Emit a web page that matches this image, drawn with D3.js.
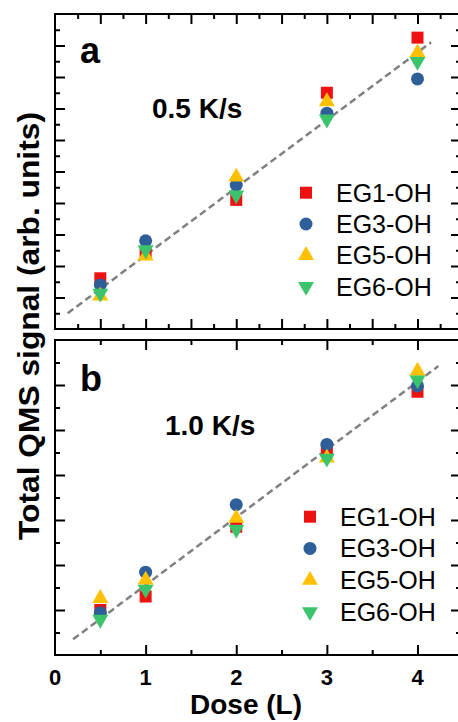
<!DOCTYPE html>
<html>
<head>
<meta charset="utf-8">
<script src="https://cdn.jsdelivr.net/npm/d3@7"></script>
<style>
  body { margin: 0; background: #fff; }
  svg { display: block; font-family: "Liberation Sans", Arial, sans-serif; }
</style>
</head>
<body>
<svg></svg>
<script>
'use strict';

// doses (L) where each sample was taken
var doses = [0.5, 1, 2, 3, 4];
var seriesNames = ['EG1-OH', 'EG3-OH', 'EG5-OH', 'EG6-OH'];
var xTickLabels = [0, 1, 2, 3, 4];

// panel a, 0.5 K/s
var a_EG1 = [1.61, 2.40, 4.10, 7.50, 9.25];
var a_EG3 = [1.40, 2.80, 4.57, 6.85, 7.94];
var a_EG5 = [1.05, 2.32, 4.83, 7.22, 8.77];
var a_EG6 = [1.13, 2.51, 4.25, 6.66, 8.49];
var a_fitX = [0.14, 4.15];
var a_fitY = [0.50, 9.10];

// panel b, 1.0 K/s
var b_EG1 = [1.00, 1.30, 2.85, 4.52, 5.85];
var b_EG3 = [0.94, 1.84, 3.34, 4.68, 5.98];
var b_EG5 = [1.26, 1.67, 3.04, 4.38, 6.31];
var b_EG6 = [0.79, 1.46, 2.79, 4.37, 6.11];
var b_fitX = [0.20, 4.23];
var b_fitY = [0.35, 6.42];

var canvasWidth = 458;
var canvasHeight = 722;
var left = 55, right = 461;

var colors = ['#ee1111', '#2e5f99', '#ffc000', '#3cc46c'];
var shapes = ['square', 'circle', 'up', 'down'];

var svg = d3.select('svg')
  .attr('width', canvasWidth)
  .attr('height', canvasHeight);

var x = d3.scaleLinear().domain([0, 4.48]).range([left, right]);

function symbolPath(shape) {
  if (shape == 'square') return d3.symbol(d3.symbolSquare, 144)();
  if (shape == 'circle') return d3.symbol(d3.symbolCircle, 133)();
  return d3.symbol(d3.symbolTriangle, 110)();
}

function range(a, b, step) {
  return d3.range(a, b + 1e-9, step);
}

function drawPanel(opt) {
  var y = d3.scaleLinear().domain(opt.yDomain).range([opt.bottom, opt.top]);
  var g = svg.append('g');

  // ticks, all pointing inward
  function axis(make, scale, vals, len, pos) {
    var ax = make(scale).tickValues(vals).tickSizeInner(-len).tickSizeOuter(0).tickFormat('');
    g.append('g')
      .attr('transform', pos)
      .call(ax)
      .call(function(s) {
        s.select('.domain').remove();
        s.selectAll('line').attr('stroke', '#000').attr('stroke-width', 2);
      });
  }
  axis(d3.axisLeft, y, opt.yMajor, 10, 'translate(' + left + ',0)');
  axis(d3.axisLeft, y, opt.yMinor, 5, 'translate(' + left + ',0)');
  axis(d3.axisRight, y, opt.yMajor, 10, 'translate(' + right + ',0)');
  axis(d3.axisRight, y, opt.yMinor, 5, 'translate(' + right + ',0)');
  axis(d3.axisTop, x, opt.xTopMajor, 10, 'translate(0,' + opt.top + ')');
  axis(d3.axisTop, x, opt.xTopMinor, 5, 'translate(0,' + opt.top + ')');
  axis(d3.axisBottom, x, opt.xBotMajor, 10, 'translate(0,' + opt.bottom + ')');
  axis(d3.axisBottom, x, opt.xBotMinor, 5, 'translate(0,' + opt.bottom + ')');

  g.append('rect')
    .attr('x', left)
    .attr('y', opt.top)
    .attr('width', right - left)
    .attr('height', opt.bottom - opt.top)
    .attr('fill', 'none')
    .attr('stroke', '#000')
    .attr('stroke-width', 2);

  // fit line
  g.append('line')
    .attr('x1', x(opt.fitX[0])).attr('y1', y(opt.fitY[0]))
    .attr('x2', x(opt.fitX[1])).attr('y2', y(opt.fitY[1]))
    .attr('stroke', '#808080')
    .attr('stroke-width', 2.5)
    .attr('stroke-dasharray', '7,4');

  opt.series.forEach(function(vals, i) {
    g.selectAll('.pt' + i)
      .data(vals)
      .enter()
      .append('path')
      .attr('d', symbolPath(shapes[i]))
      .attr('transform', function(d, j) {
        return 'translate(' + x(doses[j]) + ',' + y(d) + ')' + (shapes[i] == 'down' ? ' rotate(180)' : '');
      })
      .attr('fill', colors[i]);
  });

  // legend
  seriesNames.forEach(function(name, i) {
    var ly = opt.legendY + i * opt.legendStep;
    g.append('path')
      .attr('d', symbolPath(shapes[i]))
      .attr('transform', 'translate(' + opt.legendX + ',' + ly + ')' + (shapes[i] == 'down' ? ' rotate(180)' : ''))
      .attr('fill', colors[i]);
    g.append('text')
      .attr('x', opt.legendX + 30)
      .attr('y', ly + 9)
      .style('font-size', '25px')
      .text(name);
  });

  g.append('text')
    .attr('x', 80)
    .attr('y', opt.letterY)
    .style('font-size', '36px')
    .style('font-weight', 'bold')
    .text(opt.letter);

  g.append('text')
    .attr('x', opt.rateX)
    .attr('y', opt.rateY)
    .style('font-size', '28px')
    .style('font-weight', 'bold')
    .text(opt.rate);

  return y;
}

drawPanel({
  top: 14, bottom: 329, yDomain: [0, 10],
  yMajor: range(1, 9, 1), yMinor: range(0.5, 9.5, 1),
  xTopMajor: range(0.5, 4.5, 0.5), xTopMinor: range(0.25, 4.25, 0.5),
  xBotMajor: range(0.5, 4.5, 0.5), xBotMinor: range(0.25, 4.25, 0.5),
  fitX: a_fitX, fitY: a_fitY,
  series: [a_EG1, a_EG3, a_EG5, a_EG6],
  legendX: 306, legendY: 192.7, legendStep: 31.3,
  letter: 'a', letterY: 63,
  rate: '0.5 K/s', rateX: 152, rateY: 118
});

drawPanel({
  top: 340, bottom: 655, yDomain: [0, 7],
  yMajor: range(1, 6, 1), yMinor: range(0.5, 6.5, 1),
  xTopMajor: range(1, 4, 1), xTopMinor: range(0.5, 4.5, 1),
  xBotMajor: range(1, 4, 1), xBotMinor: range(0.5, 4.5, 1),
  fitX: b_fitX, fitY: b_fitY,
  series: [b_EG1, b_EG3, b_EG5, b_EG6],
  legendX: 310, legendY: 516.7, legendStep: 31.7,
  letter: 'b', letterY: 391,
  rate: '1.0 K/s', rateX: 165, rateY: 435
});

// x tick labels under the lower panel
svg.selectAll('.xlab')
  .data(xTickLabels)
  .enter()
  .append('text')
  .attr('x', function(d) { return x(d); })
  .attr('y', 685)
  .attr('text-anchor', 'middle')
  .style('font-size', '22px')
  .style('font-weight', 'bold')
  .text(function(d) { return d; });

svg.append('text')
  .attr('x', 246)
  .attr('y', 714)
  .attr('text-anchor', 'middle')
  .style('font-size', '28px')
  .style('font-weight', 'bold')
  .text('Dose (L)');

svg.append('text')
  .attr('transform', 'translate(39,326) rotate(-90)')
  .attr('text-anchor', 'middle')
  .attr('textLength', 428)
  .attr('lengthAdjust', 'spacingAndGlyphs')
  .style('font-size', '29px')
  .style('font-weight', 'bold')
  .text('Total QMS signal (arb. units)');
</script>
</body>
</html>
